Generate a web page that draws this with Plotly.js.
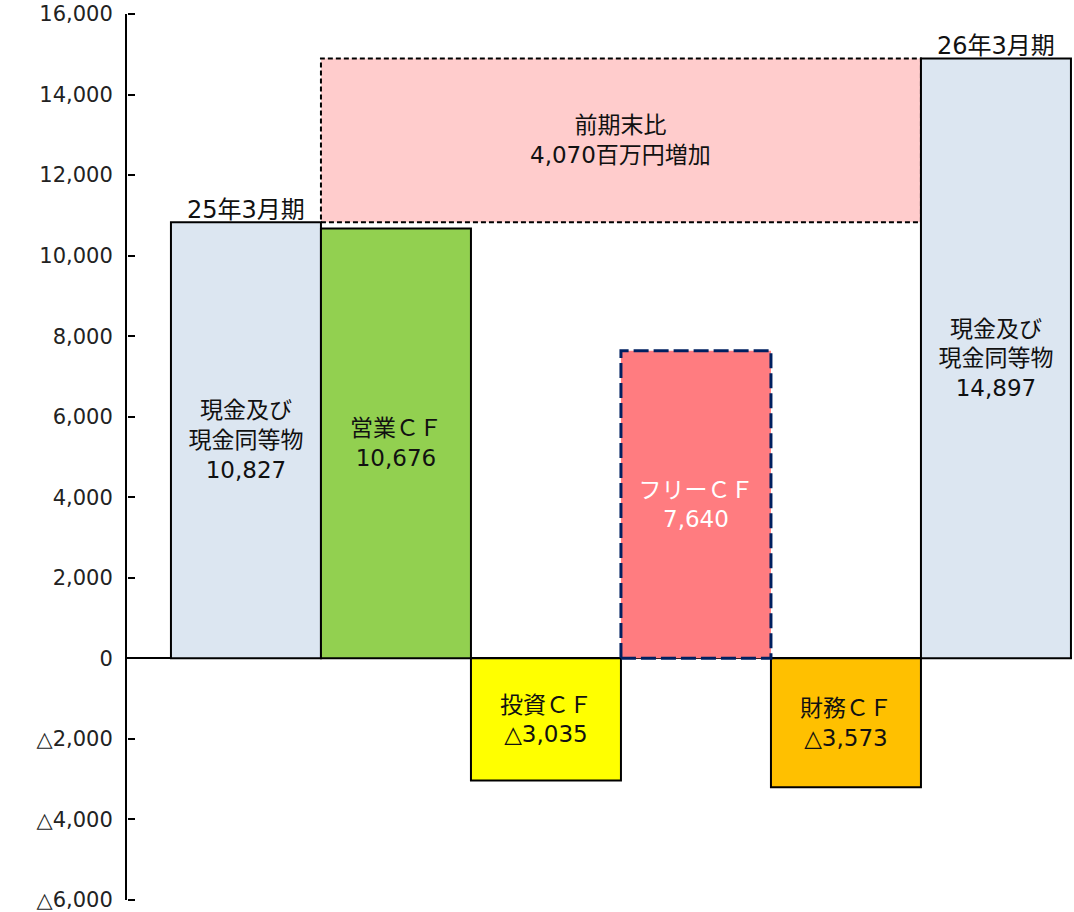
<!DOCTYPE html>
<html>
<head>
<meta charset="utf-8">
<script src="https://cdn.plot.ly/plotly-3.0.1.min.js"></script>
<style>html,body{margin:0;padding:0;background:#fff;}#chart{width:1074px;height:912px;}</style>
</head>
<body>
<div id="chart"></div>
<script>
// ---- data ----
const categories = ['25年3月期', '営業CF', '投資CF', 'フリーCF', '財務CF', '26年3月期'];
const values = [10827, 10676, -3035, 7640, -3200, 14897];
const barLabels = ['現金及び<br>現金同等物<br>10,827', '営業ＣＦ<br>10,676', '投資ＣＦ<br>△3,035',
                   'フリーＣＦ<br>7,640', '財務ＣＦ<br>△3,573', '現金及び<br>現金同等物<br>14,897'];
const periodLabels = ['25年3月期', '26年3月期'];
const diffLabel = '前期末比<br>4,070百万円増加';
const tickValues = [-6000, -4000, -2000, 0, 2000, 4000, 6000, 8000, 10000, 12000, 14000, 16000];
const tickLabels = ['△6,000', '△4,000', '△2,000', '0', '2,000', '4,000', '6,000', '8,000', '10,000', '12,000', '14,000', '16,000'];

// ---- styles ----
const FONT = 'DejaVu Sans, Noto Sans CJK JP, sans-serif';
const fillColors = ['#dce6f1', '#92d050', '#ffff00', '#ff7c80', '#ffc000', '#dce6f1'];
const textColors = ['#111', '#111', '#111', '#fff', '#111', '#111'];
const lineWidths = [2, 2, 2, 0, 2, 2];
const Y_RANGE = [-6001, 16001];

const idx = categories.map((c, i) => i);

const bars = {
  type: 'bar',
  x: idx,
  y: values,
  width: 1,
  text: barLabels,
  textposition: 'inside',
  insidetextanchor: 'middle',
  textangle: 0,
  constraintext: 'none',
  textfont: {family: FONT, size: 23, color: textColors},
  marker: {color: fillColors, line: {color: '#000', width: lineWidths}},
  hoverinfo: 'none'
};

// empty trace so that the tick-mark axis (y2) is drawn
const tickHolder = {type: 'scatter', x: [], y: [], yaxis: 'y2', hoverinfo: 'none', showlegend: false};

const start = values[0], end = values[5];
const shapes = [
  {type: 'rect', xref: 'x', yref: 'y', x0: 0.5, x1: 4.5, y0: start, y1: end,
   fillcolor: '#ffcccc', line: {color: '#000', width: 2, dash: '5px,3px'}, layer: 'below'},
  {type: 'rect', xref: 'x', yref: 'y', x0: 2.5, x1: 3.5, y0: 0, y1: values[3],
   fillcolor: 'rgba(0,0,0,0)', line: {color: '#002060', width: 3, dash: '15px,5px'}, layer: 'above'}
];

const annotations = [
  {x: 0, y: values[0], xref: 'x', yref: 'y', text: periodLabels[0], showarrow: false,
   yanchor: 'bottom', yshift: -4, font: {family: FONT, size: 24, color: '#111'}},
  {x: 5, y: values[5], xref: 'x', yref: 'y', text: periodLabels[1], showarrow: false,
   yanchor: 'bottom', yshift: -4, font: {family: FONT, size: 24, color: '#111'}},
  {x: 2.5, y: (start + end) / 2, xref: 'x', yref: 'y', text: diffLabel, showarrow: false,
   yanchor: 'middle', font: {family: FONT, size: 23, color: '#111'}}
];

const layout = {
  width: 1074, height: 912,
  margin: {l: 127, r: 2, t: 14, b: 12, pad: 0},
  paper_bgcolor: '#fff', plot_bgcolor: '#fff',
  showlegend: false,
  bargap: 0,
  xaxis: {range: [-0.793, 5.507], showgrid: false, zeroline: false, showline: false,
          showticklabels: false, ticks: '', fixedrange: true},
  yaxis: {range: Y_RANGE, tickmode: 'array', tickvals: tickValues, ticktext: tickLabels,
          showgrid: false, zeroline: true, zerolinecolor: '#000', zerolinewidth: 2,
          showline: true, linecolor: '#000', linewidth: 2,
          ticks: '', ticklabeloverflow: 'allow', showticklabels: true,
          ticklabelstandoff: 8,
          tickfont: {family: FONT, size: 21, color: '#222'}},
  yaxis2: {range: Y_RANGE, tickmode: 'array', tickvals: tickValues, overlaying: 'y',
           side: 'right', anchor: 'free', position: 0,
           showgrid: false, zeroline: false, showline: false, showticklabels: false,
           ticks: 'outside', ticklen: 7, tickwidth: 2, tickcolor: '#000'},
  shapes: shapes,
  annotations: annotations
};

Plotly.newPlot('chart', [bars, tickHolder], layout, {displayModeBar: false, staticPlot: true});
</script>
</body>
</html>
